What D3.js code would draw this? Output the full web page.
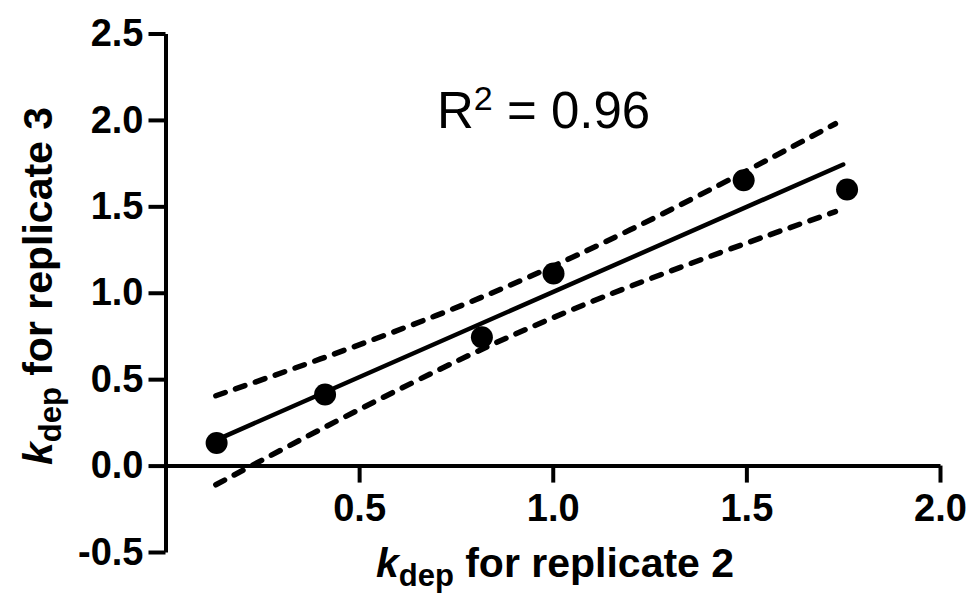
<!DOCTYPE html>
<html>
<head>
<meta charset="utf-8">
<script src="https://cdn.jsdelivr.net/npm/d3@7"></script>
<style>
  html, body { margin: 0; padding: 0; background: #fff; }
  svg { display: block; }
  text { font-family: "Liberation Sans", Arial, sans-serif; fill: #000; }
</style>
</head>
<body>
<svg id="chart" width="971" height="594"></svg>
<script>
// ---- data ----
const pointsX = [0.132, 0.412, 0.817, 1.002, 1.493, 1.760];
const pointsY = [0.131, 0.411, 0.743, 1.111, 1.651, 1.597];
const fitX = [0.132, 1.75];
const fitY = [0.149, 1.742];
const bandX = [0.13, 0.4, 0.7, 0.94, 1.2, 1.5, 1.73];
const bandUpper = [0.404, 0.617, 0.869, 1.093, 1.364, 1.705, 1.978];
const bandLower = [-0.111, 0.209, 0.548, 0.797, 1.037, 1.287, 1.469];
const xTicks = [0.5, 1.0, 1.5, 2.0];
const yTicks = [-0.5, 0.0, 0.5, 1.0, 1.5, 2.0, 2.5];
const annotation = "0.96";

// ---- layout ----
const svg = d3.select("#chart");
const x = d3.scaleLinear().domain([0, 2]).range([165.5, 940]);
const y = d3.scaleLinear().domain([-0.5, 2.5]).range([552, 33.5]);

const tickFont = 38;

// x axis at y = 0
const xAxis = svg.append("g")
  .attr("transform", `translate(0,${y(0)})`)
  .call(d3.axisBottom(x).tickValues(xTicks).tickFormat(d3.format(".1f"))
        .tickSize(17).tickSizeOuter(0).tickPadding(11));
xAxis.select(".domain").attr("stroke", "#000").attr("stroke-width", 4);
xAxis.selectAll(".tick line").attr("stroke", "#000").attr("stroke-width", 4);
xAxis.selectAll(".tick text")
  .attr("font-family", "Liberation Sans, Arial, sans-serif")
  .attr("font-size", tickFont).attr("font-weight", "bold").attr("fill", "#000");

// y axis
const yAxis = svg.append("g")
  .attr("transform", `translate(${x(0)},0)`)
  .call(d3.axisLeft(y).tickValues(yTicks).tickFormat(d3.format(".1f"))
        .tickSize(17).tickSizeOuter(0).tickPadding(5));
yAxis.select(".domain").attr("stroke", "#000").attr("stroke-width", 4);
yAxis.selectAll(".tick line").attr("stroke", "#000").attr("stroke-width", 4);
yAxis.selectAll(".tick text")
  .attr("font-family", "Liberation Sans, Arial, sans-serif")
  .attr("font-size", tickFont).attr("font-weight", "bold").attr("fill", "#000")
  .text(d => d < 0 ? "-" + Math.abs(d).toFixed(1) : d.toFixed(1));

// confidence bands
const bandLine = d3.line().curve(d3.curveNatural).x(d => x(d[0])).y(d => y(d[1]));
[bandUpper, bandLower].forEach(arr => {
  svg.append("path")
    .datum(bandX.map((v, i) => [v, arr[i]]))
    .attr("d", bandLine)
    .attr("fill", "none").attr("stroke", "#000")
    .attr("stroke-width", 5.5)
    .attr("stroke-dasharray", "10 11")
    .attr("stroke-linecap", "round");
});

// regression line
svg.append("path")
  .datum(fitX.map((v, i) => [v, fitY[i]]))
  .attr("d", d3.line().x(d => x(d[0])).y(d => y(d[1])))
  .attr("fill", "none").attr("stroke", "#000")
  .attr("stroke-width", 4.5).attr("stroke-linecap", "round");

// points
svg.append("g").selectAll("circle")
  .data(pointsX.map((v, i) => [v, pointsY[i]]))
  .join("circle")
  .attr("cx", d => x(d[0])).attr("cy", d => y(d[1]))
  .attr("r", 11).attr("fill", "#000");

// annotation
const ann = svg.append("text").attr("x", 437).attr("y", 128)
  .attr("font-size", 51);
ann.append("tspan").text("R");
ann.append("tspan").attr("font-size", 34).attr("dy", -18).text("2");
ann.append("tspan").attr("dy", 18).text(" = " + annotation);

// axis titles
function title(sel, rest) {
  sel.attr("font-weight", "bold").attr("font-size", 41).attr("text-anchor", "middle");
  sel.append("tspan").attr("font-style", "italic").text("k");
  sel.append("tspan").attr("font-size", 31).attr("dy", 9).text("dep");
  sel.append("tspan").attr("dy", -9).text(" " + rest);
}
title(svg.append("text").attr("x", 555).attr("y", 577), "for replicate 2");
title(svg.append("text").attr("transform", "translate(52,286) rotate(-90)"), "for replicate 3");
</script>
</body>
</html>
